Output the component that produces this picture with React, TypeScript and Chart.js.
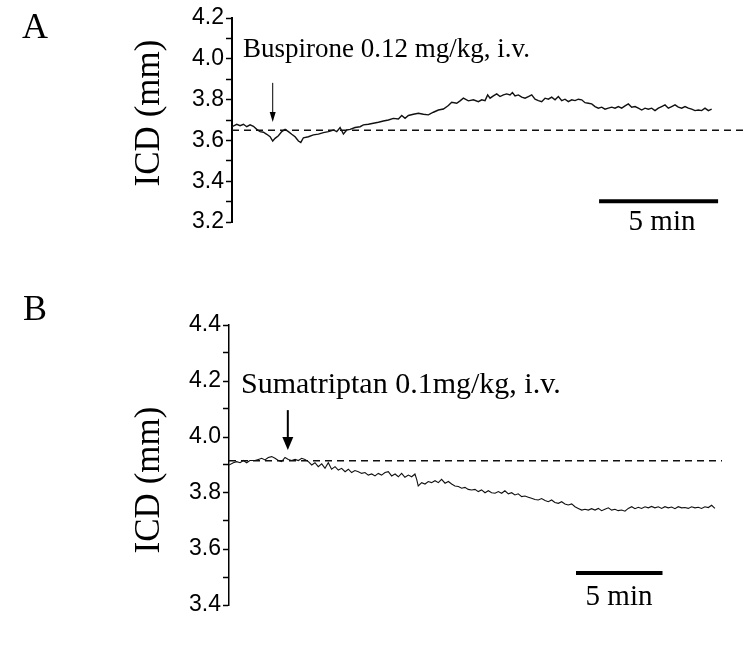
import React, { useEffect, useRef } from "react";
import { Chart, registerables } from "chart.js";
Chart.register(...registerables);

// ---------- Panel A : Buspirone ----------
const timeA = [
  0, 0.2, 0.34, 0.48, 0.62, 0.76, 0.9, 1.04, 1.18, 1.32, 1.46, 1.6, 1.71, 1.81, 1.95, 2.09, 2.23, 2.37, 2.51, 2.65,
  2.79, 2.89, 3.0, 3.21, 3.42, 3.63, 3.84, 4.05, 4.26, 4.4, 4.54, 4.68, 4.82, 4.96, 5.17, 5.38, 5.52, 5.73, 5.94, 6.15,
  6.36, 6.57, 6.78, 6.99, 7.13, 7.27, 7.41, 7.62, 7.83, 8.04, 8.25, 8.46, 8.67, 8.88, 9.09, 9.23, 9.44, 9.58, 9.72, 9.93,
  10.14, 10.35, 10.49, 10.63, 10.74, 10.84, 10.98, 11.12, 11.26, 11.4, 11.54, 11.68, 11.78, 11.89, 12.03, 12.17, 12.31, 12.45, 12.59, 12.73,
  12.87, 13.01, 13.15, 13.29, 13.43, 13.57, 13.71, 13.85, 13.99, 14.13, 14.27, 14.41, 14.55, 14.69, 14.83, 14.97, 15.11, 15.25, 15.39, 15.53,
  15.67, 15.81, 15.95, 16.09, 16.23, 16.37, 16.51, 16.65, 16.79, 16.93, 17.07, 17.21, 17.35, 17.49, 17.63, 17.77, 17.91, 18.05, 18.19, 18.33,
  18.47, 18.61, 18.75, 18.89, 19.03, 19.17, 19.31, 19.45, 19.59, 19.73, 19.87, 20.01, 20.15,
];
const icdA = [
  3.667, 3.679, 3.672, 3.679, 3.667, 3.676, 3.669, 3.654, 3.643, 3.64, 3.63, 3.618, 3.597, 3.61, 3.623, 3.643, 3.654, 3.643, 3.63, 3.618,
  3.597, 3.59, 3.613, 3.618, 3.627, 3.631, 3.638, 3.643, 3.651, 3.643, 3.663, 3.631, 3.651, 3.654, 3.663, 3.667, 3.676, 3.679, 3.684, 3.689,
  3.695, 3.7, 3.708, 3.705, 3.722, 3.708, 3.722, 3.728, 3.733, 3.728, 3.725, 3.738, 3.749, 3.754, 3.771, 3.787, 3.782, 3.794, 3.807, 3.794,
  3.799, 3.79, 3.799, 3.795, 3.823, 3.807, 3.818, 3.828, 3.815, 3.823, 3.828, 3.823, 3.835, 3.818, 3.823, 3.812, 3.807, 3.815, 3.823, 3.802,
  3.795, 3.79, 3.807, 3.802, 3.812, 3.799, 3.815, 3.795, 3.802, 3.79, 3.799, 3.795, 3.802, 3.799, 3.785, 3.782, 3.779, 3.766, 3.758, 3.763,
  3.753, 3.758, 3.763, 3.758, 3.766, 3.758, 3.769, 3.779, 3.763, 3.766, 3.758, 3.749, 3.758, 3.753, 3.758, 3.746, 3.758, 3.766, 3.774, 3.758,
  3.766, 3.774, 3.763, 3.758, 3.766, 3.758, 3.753, 3.746, 3.749, 3.746, 3.758, 3.746, 3.753,
];
const baselineA = 3.65;
const xMaxA = 21.55;
const yTicksA = [3.2, 4.2];
const arrowA = { t: 1.71, top: 3.882, tip: 3.69 };
const scaleBarA = { t: 15.42, minutes: 5, y: 3.302 };
const labelA = "Buspirone 0.12 mg/kg, i.v.";

// ---------- Panel B : Sumatriptan ----------
const timeB = [
  0, 0.25, 0.44, 0.64, 0.83, 1.02, 1.21, 1.5, 1.7, 1.89, 2.08, 2.27, 2.47, 2.66, 2.85, 3.04, 3.24, 3.43, 3.62, 3.82,
  4.01, 4.2, 4.39, 4.59, 4.78, 4.97, 5.16, 5.36, 5.55, 5.74, 5.93, 6.13, 6.32, 6.51, 6.71, 6.9, 7.09, 7.28, 7.48, 7.67,
  7.86, 8.05, 8.25, 8.44, 8.63, 8.82, 9.02, 9.21, 9.4, 9.6, 9.79, 9.98, 10.17, 10.37, 10.56, 10.75, 10.85, 10.94, 11.14, 11.33,
  11.52, 11.71, 11.91, 12.1, 12.29, 12.49, 12.68, 12.87, 13.06, 13.26, 13.45, 13.64, 13.83, 14.03, 14.22, 14.41, 14.6, 14.8, 14.99, 15.18,
  15.38, 15.57, 15.76, 15.95, 16.15, 16.34, 16.53, 16.72, 16.92, 17.11, 17.3, 17.49, 17.69, 17.88, 18.07, 18.27, 18.46, 18.65, 18.84, 19.04,
  19.23, 19.42, 19.61, 19.81, 20.0, 20.19, 20.39, 20.58, 20.77, 20.96, 21.16, 21.35, 21.54, 21.73, 21.93, 22.12, 22.31, 22.5, 22.7, 22.89,
  23.08, 23.28, 23.47, 23.66, 23.85, 24.05, 24.24, 24.43, 24.62, 24.82, 25.01, 25.2, 25.39, 25.59, 25.78, 25.97, 26.17, 26.36, 26.55, 26.74,
  26.94, 27.13, 27.32, 27.51, 27.71, 27.9, 28.09,
];
const icdB = [
  3.9, 3.908, 3.912, 3.908, 3.916, 3.908, 3.916, 3.916, 3.92, 3.924, 3.918, 3.927, 3.93, 3.924, 3.916, 3.912, 3.927, 3.92, 3.916, 3.92,
  3.916, 3.924, 3.92, 3.912, 3.9, 3.908, 3.894, 3.904, 3.888, 3.908, 3.885, 3.894, 3.882, 3.888, 3.876, 3.885, 3.873, 3.88, 3.876, 3.87,
  3.873, 3.864, 3.868, 3.861, 3.87, 3.864, 3.873, 3.876, 3.861, 3.868, 3.858, 3.87, 3.856, 3.864, 3.858, 3.868, 3.849, 3.825, 3.837, 3.832,
  3.841, 3.837, 3.844, 3.837, 3.849, 3.835, 3.841, 3.832, 3.825, 3.823, 3.817, 3.82, 3.813, 3.811, 3.813, 3.805, 3.811, 3.801, 3.808, 3.801,
  3.799, 3.805, 3.799, 3.808, 3.797, 3.801, 3.793, 3.797, 3.787, 3.789, 3.785, 3.781, 3.777, 3.775, 3.78, 3.773, 3.769, 3.775, 3.766, 3.763,
  3.769, 3.761, 3.757, 3.761, 3.751, 3.745, 3.739, 3.742, 3.739, 3.744, 3.739, 3.745, 3.737, 3.742, 3.747, 3.739, 3.742, 3.737, 3.739, 3.735,
  3.745, 3.751, 3.744, 3.749, 3.745, 3.751, 3.747, 3.752, 3.747, 3.751, 3.745, 3.751, 3.747, 3.75, 3.744, 3.751, 3.747, 3.748, 3.745, 3.751,
  3.747, 3.749, 3.745, 3.751, 3.748, 3.756, 3.745,
];
const baselineB = 3.915;
const xMaxB = 28.5;
const yTicksB = [3.4, 4.4];
const arrowB = { t: 3.4, top: 4.096, tip: 3.954 };
const scaleBarB = { t: 20.06, minutes: 5, y: 3.514 };
const labelB = "Sumatriptan 0.1mg/kg, i.v.";

const SERIF = '"Liberation Serif", "Times New Roman", serif';
const SANS = '"Liberation Sans", Arial, sans-serif';

type PanelCfg = {
  letter: string;
  letterPos: [number, number];
  titlePos: [number, number];
  label: string;
  labelSize: number;
  labelPos: [number, number];
  arrow: { t: number; top: number; tip: number };
  arrowStyle: { width: number; headW: number; headH: number };
  bar: { t: number; minutes: number; y: number };
  barTextPos: [number, number];
};

function annotPlugin(cfg: PanelCfg) {
  return {
    id: "annot",
    afterDraw(chart: any) {
      const { ctx } = chart;
      const x = chart.scales.x;
      const y = chart.scales.y;
      ctx.save();
      ctx.fillStyle = "#000";
      ctx.strokeStyle = "#000";
      // panel letter
      ctx.font = `36px ${SERIF}`;
      ctx.textAlign = "left";
      ctx.textBaseline = "alphabetic";
      ctx.fillText(cfg.letter, cfg.letterPos[0], cfg.letterPos[1]);
      // y title
      ctx.save();
      ctx.translate(cfg.titlePos[0], cfg.titlePos[1]);
      ctx.rotate(-Math.PI / 2);
      ctx.font = `35px ${SERIF}`;
      ctx.textAlign = "center";
      ctx.textBaseline = "middle";
      ctx.fillText("ICD (mm)", 0, 0);
      ctx.restore();
      // drug label
      ctx.font = `${cfg.labelSize}px ${SERIF}`;
      ctx.textAlign = "left";
      ctx.textBaseline = "alphabetic";
      ctx.fillText(cfg.label, cfg.labelPos[0], cfg.labelPos[1]);
      // arrow
      const ax = x.getPixelForValue(cfg.arrow.t);
      const y0 = y.getPixelForValue(cfg.arrow.top);
      const y1 = y.getPixelForValue(cfg.arrow.tip);
      const { width, headW, headH } = cfg.arrowStyle;
      ctx.lineWidth = width;
      ctx.beginPath();
      ctx.moveTo(ax, y0);
      ctx.lineTo(ax, y1 - headH + 1);
      ctx.stroke();
      ctx.beginPath();
      ctx.moveTo(ax - headW / 2, y1 - headH);
      ctx.lineTo(ax + headW / 2, y1 - headH);
      ctx.lineTo(ax, y1);
      ctx.closePath();
      ctx.fill();
      // scale bar
      const bx0 = x.getPixelForValue(cfg.bar.t);
      const bx1 = x.getPixelForValue(cfg.bar.t + cfg.bar.minutes);
      const by = y.getPixelForValue(cfg.bar.y);
      ctx.lineWidth = 4;
      ctx.lineCap = "butt";
      ctx.beginPath();
      ctx.moveTo(bx0, by);
      ctx.lineTo(bx1, by);
      ctx.stroke();
      ctx.font = `29px ${SERIF}`;
      ctx.textAlign = "center";
      ctx.fillText(`${cfg.bar.minutes} min`, cfg.barTextPos[0], cfg.barTextPos[1]);
      ctx.restore();
    },
  };
}

function makeChart(
  canvas: HTMLCanvasElement,
  times: number[],
  values: number[],
  baseline: number,
  xMax: number,
  yRange: number[],
  axisLeft: number,
  padding: { top: number; bottom: number; right: number },
  traceWidth: number,
  axisWidth: number,
  cfg: PanelCfg
) {
  const trace = times.map((t, i) => ({ x: t, y: values[i] }));
  const base = [
    { x: 0, y: baseline },
    { x: xMax, y: baseline },
  ];
  return new Chart(canvas, {
    type: "line",
    data: {
      datasets: [
        {
          data: trace,
          borderColor: "#111",
          borderWidth: traceWidth,
          pointRadius: 0,
          tension: 0,
          fill: false,
        },
        {
          data: base,
          borderColor: "#111",
          borderWidth: 1.4,
          borderDash: [7, 5],
          pointRadius: 0,
          fill: false,
        },
      ],
    },
    options: {
      animation: false,
      responsive: false,
      devicePixelRatio: 1,
      events: [],
      layout: { padding: { left: 0, top: padding.top, bottom: padding.bottom, right: padding.right } },
      plugins: { legend: { display: false }, tooltip: { enabled: false }, title: { display: false } },
      scales: {
        x: { type: "linear", min: 0, max: xMax, display: false },
        y: {
          type: "linear",
          min: yRange[0],
          max: yRange[1],
          afterFit: (s: any) => {
            s.width = axisLeft;
          },
          ticks: {
            stepSize: 0.1,
            autoSkip: false,
            padding: 2,
            color: "#000",
            font: { family: SANS, size: 23 },
            callback: (v: any) => {
              const k = Math.round(Number(v) * 10);
              return k % 2 === 0 ? (k / 10).toFixed(1) : "";
            },
          },
          grid: { drawOnChartArea: false, drawTicks: true, tickLength: 6, color: "#000", tickWidth: 1.5 },
          border: { display: true, color: "#000", width: axisWidth },
        },
      },
    },
    plugins: [annotPlugin(cfg)],
  } as any);
}

export default function App() {
  const refA = useRef<HTMLCanvasElement>(null);
  const refB = useRef<HTMLCanvasElement>(null);

  useEffect(() => {
    const a = makeChart(
      refA.current!,
      timeA,
      icdA,
      baselineA,
      xMaxA,
      yTicksA,
      232,
      { top: 18, bottom: 28, right: 5 },
      1.4,
      2,
      {
        letter: "A",
        letterPos: [22, 38],
        titlePos: [150, 113],
        label: labelA,
        labelSize: 27,
        labelPos: [243, 57],
        arrow: arrowA,
        arrowStyle: { width: 1, headW: 6, headH: 10 },
        bar: scaleBarA,
        barTextPos: [662, 230],
      }
    );
    const b = makeChart(
      refB.current!,
      timeB,
      icdB,
      baselineB,
      xMaxB,
      yTicksB,
      229,
      { top: 35, bottom: 25, right: 28 },
      1.1,
      1.5,
      {
        letter: "B",
        letterPos: [23, 30],
        titlePos: [150, 190],
        label: labelB,
        labelSize: 30,
        labelPos: [241, 103],
        arrow: arrowB,
        arrowStyle: { width: 2, headW: 11, headH: 13 },
        bar: scaleBarB,
        barTextPos: [619, 315],
      }
    );
    return () => {
      a.destroy();
      b.destroy();
    };
  }, []);

  return (
    <div style={{ position: "fixed", left: 0, top: 0, width: 750, height: 645, background: "#fff" }}>
      <canvas ref={refA} width={750} height={250} style={{ position: "absolute", left: 0, top: 0, width: 750, height: 250 }} />
      <canvas ref={refB} width={750} height={340} style={{ position: "absolute", left: 0, top: 290, width: 750, height: 340 }} />
    </div>
  );
}
